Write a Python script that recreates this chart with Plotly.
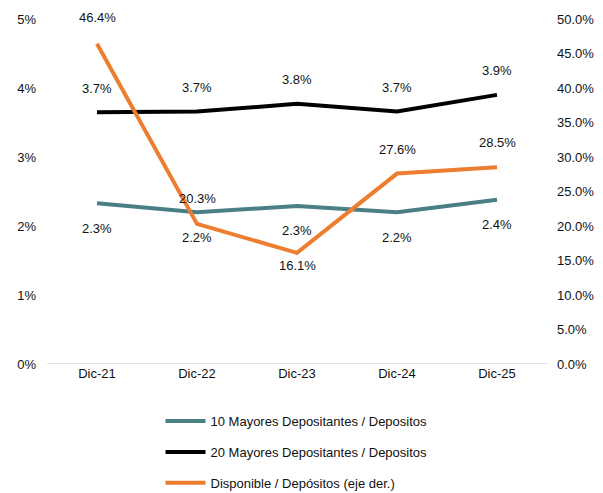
import plotly.graph_objects as go

categories = ["Dic-21", "Dic-22", "Dic-23", "Dic-24", "Dic-25"]
top10 = [2.33, 2.20, 2.29, 2.20, 2.38]
top10_labels = ["2.3%", "2.2%", "2.3%", "2.2%", "2.4%"]
top20 = [3.65, 3.66, 3.77, 3.66, 3.90]
top20_labels = ["3.7%", "3.7%", "3.8%", "3.7%", "3.9%"]
disp = [46.4, 20.3, 16.1, 27.6, 28.5]
disp_labels = ["46.4%", "20.3%", "16.1%", "27.6%", "28.5%"]
disp_shift = [26, 25, -13, 24, 25]

left_ticks = [0, 1, 2, 3, 4, 5]
left_tick_text = ["0%", "1%", "2%", "3%", "4%", "5%"]
right_ticks = [0, 5, 10, 15, 20, 25, 30, 35, 40, 45, 50]
right_tick_text = [f"{v:.1f}%" for v in right_ticks]

FONT = "Liberation Sans, Arial, sans-serif"
TXT = dict(family=FONT, size=13, color="#111111")

fig = go.Figure()
fig.add_trace(go.Scatter(
    x=categories, y=top10, name="10 Mayores Depositantes / Depositos",
    mode="lines", line=dict(color="#4A7F86", width=4), legendgroup="a"))
fig.add_trace(go.Scatter(
    x=categories, y=top20, name="20 Mayores Depositantes / Depositos",
    mode="lines", line=dict(color="#000000", width=4), legendgroup="b"))
fig.add_trace(go.Scatter(
    x=categories, y=disp, name="Disponible / Depósitos (eje der.)",
    mode="lines", line=dict(color="#ED7D31", width=4), legendgroup="c",
    yaxis="y2"))

annotations = []
for c, v, t in zip(categories, top10, top10_labels):
    annotations.append(dict(x=c, y=v, xref="x", yref="y", text=t, showarrow=False,
                            yshift=-25, font=TXT))
for c, v, t in zip(categories, top20, top20_labels):
    annotations.append(dict(x=c, y=v, xref="x", yref="y", text=t, showarrow=False,
                            yshift=24, font=TXT))
for c, v, t, s in zip(categories, disp, disp_labels, disp_shift):
    annotations.append(dict(x=c, y=v, xref="x", yref="y2", text=t, showarrow=False,
                            yshift=s, font=TXT))

fig.update_layout(
    width=595, height=485,
    margin=dict(l=39, r=56, t=11, b=129, autoexpand=False),
    paper_bgcolor="white", plot_bgcolor="white",
    font=TXT,
    showlegend=True,
    legend=dict(orientation="v", x=0.227, xanchor="left", y=-0.122, yanchor="top",
                font=dict(family=FONT, size=13, color="#111111"),
                tracegroupgap=11, itemwidth=40),
    xaxis=dict(range=[-0.5, 4.5], showgrid=False, showline=False, ticks="",
               tickfont=TXT, zeroline=False, automargin=False),
    yaxis=dict(range=[0, 5], tickvals=left_ticks, ticktext=left_tick_text,
               showgrid=False, zeroline=False, showline=False, ticks="",
               tickfont=TXT, ticklabelstandoff=10, automargin=False),
    yaxis2=dict(range=[0, 50], tickvals=right_ticks, ticktext=right_tick_text,
                overlaying="y", side="right", showgrid=False, zeroline=False,
                showline=False, ticks="", tickfont=TXT, ticklabelstandoff=9,
                automargin=False),
    annotations=annotations,
    shapes=[dict(type="line", xref="paper", yref="y", x0=0, x1=1, y0=0, y1=0,
                 line=dict(color="#D9D9D9", width=1.5), layer="below")],
)

fig.write_html("out.html")
